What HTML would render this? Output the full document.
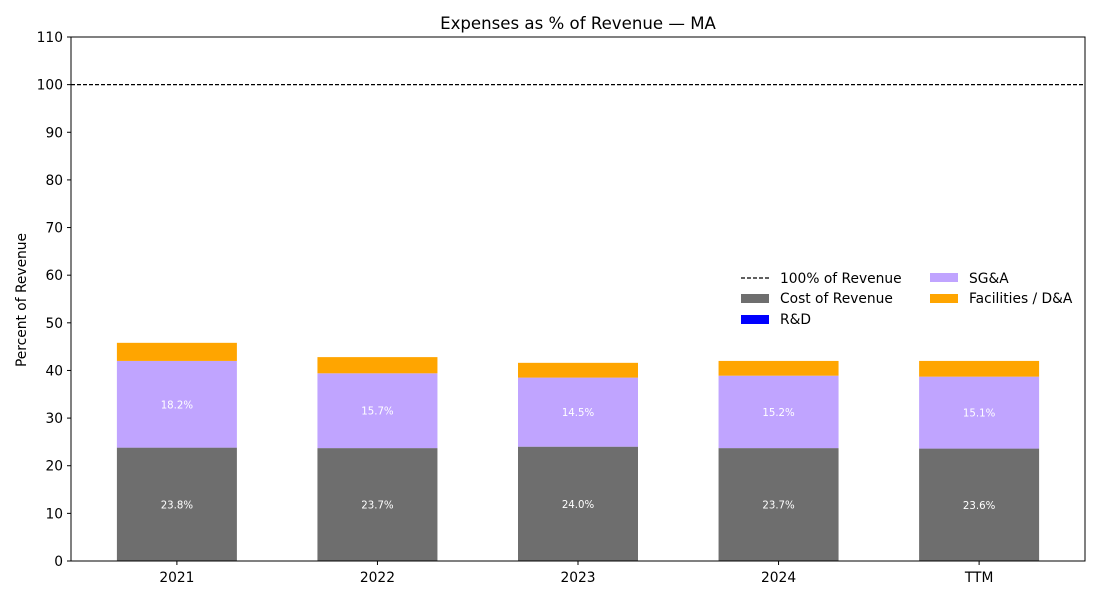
<!DOCTYPE html>
<html><head><meta charset="utf-8"><style>
body{margin:0;background:#fff;}
svg{font-family:"DejaVu Sans","Liberation Sans",sans-serif;}
</style></head><body>
<svg id="chart" width="1100" height="600">
<text x="578" y="29" text-anchor="middle" font-size="16.6">Expenses as % of Revenue — MA</text>
<text transform="translate(26,300) rotate(-90)" text-anchor="middle" font-size="13.8">Percent of Revenue</text>
<g id="marks"></g>
<g id="axes"></g>
<g>
<line x1="741" y1="278" x2="769" y2="278" stroke="#000" stroke-dasharray="4,2" stroke-width="1.2"/>
<text x="780" y="283" font-size="13.8">100% of Revenue</text>
<rect x="741" y="294" width="28" height="9" fill="#6e6e6e"/>
<text x="780" y="303" font-size="13.8">Cost of Revenue</text>
<rect x="741" y="315" width="28" height="9" fill="#0000ff"/>
<text x="780" y="324" font-size="13.8">R&amp;D</text>
<rect x="930" y="273" width="28" height="9" fill="#c0a4ff"/>
<text x="969" y="283" font-size="13.8">SG&amp;A</text>
<rect x="930" y="294" width="28" height="9" fill="#ffa500"/>
<text x="969" y="303" font-size="13.8">Facilities / D&amp;A</text>
</g>
</svg>
<script>
const categories=["2021","2022","2023","2024","TTM"];
const costOfRevenue=[23.8,23.7,24.0,23.7,23.6];
const rnd=[0,0,0,0,0];
const sga=[18.2,15.7,14.5,15.2,15.1];
const facilities=[3.8,3.4,3.1,3.1,3.3];
const yTicks=[0,10,20,30,40,50,60,70,80,90,100,110];
const NS="http://www.w3.org/2000/svg";
const L=71,R=1085,T=37,B=561;
const y=v=>B-(v/110)*(B-T);
const x=i=>L+(i+0.528)*((R-L)/(categories.length-1+1.056));
const bw=120;
const marks=document.getElementById('marks'),axes=document.getElementById('axes');
function mk(tag,attrs,parent){const e=document.createElementNS(NS,tag);for(const k in attrs)e.setAttribute(k,attrs[k]);parent.appendChild(e);return e;}
const series=[[costOfRevenue,"#6e6e6e","cost"],[rnd,"#0000ff","rnd"],[sga,"#c0a4ff","sga"],[facilities,"#ffa500","facilities"]];
categories.forEach((c,i)=>{let base=0;series.forEach(([arr,col,nm])=>{const v=arr[i];if(v>0){const r=mk('rect',{x:x(i)-bw/2,y:y(base+v),width:bw,height:y(base)-y(base+v),fill:col},marks);


if(nm==="cost"||nm==="sga"){const t=mk('text',{x:x(i),y:y(base+v/2)+4,'text-anchor':'middle','font-size':'10.2',fill:'#fff'},marks);t.textContent=v.toFixed(1)+'%';

}}base+=v;});
const tl=mk('line',{x1:x(i),x2:x(i),y1:B,y2:B+4,stroke:'#000'},axes);
const tt=mk('text',{x:x(i),y:B+21,'text-anchor':'middle','font-size':'13.8'},axes);tt.textContent=c;

});
yTicks.forEach(v=>{mk('line',{x1:L-4,x2:L,y1:y(v),y2:y(v),stroke:'#000'},axes);
const t=mk('text',{x:L-8,y:y(v)+5,'text-anchor':'end','font-size':'13.8'},axes);t.textContent=v;

});
const ref=mk('line',{x1:L,x2:R,y1:y(100),y2:y(100),stroke:'#000','stroke-dasharray':'4,2','stroke-width':1.2},axes);


const fr=mk('rect',{x:L,y:T,width:R-L,height:B-T,fill:'none',stroke:'#000'},axes);


</script>
</body></html>
